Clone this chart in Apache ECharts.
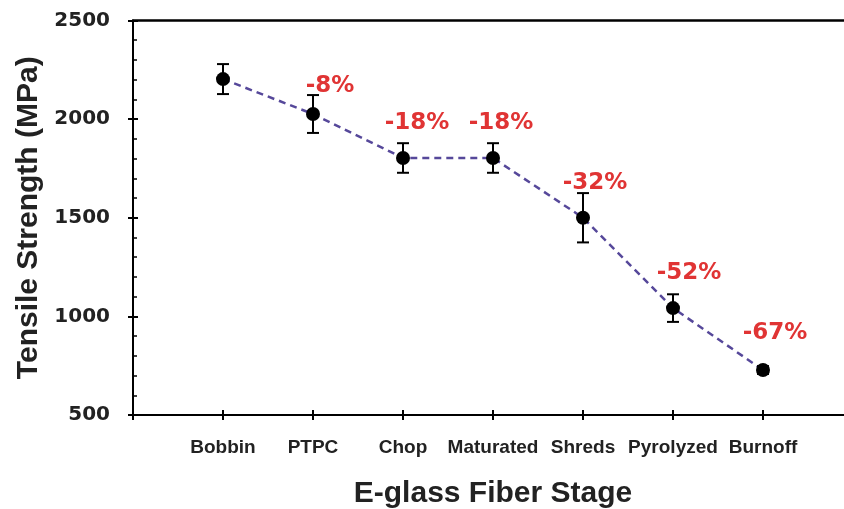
<!DOCTYPE html>
<html>
<head>
<meta charset="utf-8">
<script src="https://cdn.jsdelivr.net/npm/echarts@6/dist/echarts.min.js"></script>
<style>
html,body{margin:0;padding:0;background:#fff;}
#chart{width:844px;height:509px;}
</style>
</head>
<body>
<div id="chart"></div>
<script>
var categories = ['Bobbin', 'PTPC', 'Chop', 'Maturated', 'Shreds', 'Pyrolyzed', 'Burnoff'];
var strength = [2203, 2026, 1803, 1803, 1500, 1042, 728];
var errors = [76, 96, 75, 75, 125, 70, 20];
var changeLabels = ['', '-8%', '-18%', '-18%', '-32%', '-52%', '-67%'];
var yTicks = [500, 1000, 1500, 2000, 2500];

var labelOffsets = [[0,0],[17,-28],[14,-35],[8,-35],[12,-35],[16,-35],[12,-37]];
var ARIAL = 'Liberation Sans, Arial, sans-serif';
var WIDE = 'DejaVu Sans, Verdana, sans-serif';

var chart = echarts.init(document.getElementById('chart'), null, {renderer: 'canvas'});

var lineData = categories.map(function (c, i) {
  return {
    value: [i + 1, strength[i]],
    label: {
      show: changeLabels[i] !== '',
      formatter: changeLabels[i],
      position: 'inside',
      offset: labelOffsets[i]
    }
  };
});
var errData = categories.map(function (c, i) {
  return [i + 1, strength[i] - errors[i], strength[i] + errors[i]];
});

var commonX = {
  type: 'value', min: 0, max: 8, interval: 1,
  splitLine: {show: false}
};
var commonY = {
  type: 'value', min: yTicks[0], max: yTicks[yTicks.length - 1], interval: 500,
  splitLine: {show: false}
};

chart.setOption({
  animation: false,
  backgroundColor: '#ffffff',
  grid: {left: 133, top: 20.5, width: 720, bottom: 94, containLabel: false, outerBoundsMode: 'none'},
  xAxis: [
    Object.assign({}, commonX, {
      position: 'bottom',
      axisLine: {show: true, onZero: false, lineStyle: {color: '#000', width: 2}},
      axisTick: {show: true, inside: false, length: 5, lineStyle: {color: '#000', width: 2}},
      axisLabel: {
        show: true, margin: 23, hideOverlap: false,
        color: '#222', fontFamily: ARIAL, fontWeight: 'bold', fontSize: 19,
        formatter: function (v) { return categories[v - 1] || ''; }
      },
      name: 'E-glass Fiber Stage', nameLocation: 'middle', nameGap: 64,
      nameTextStyle: {color: '#222', fontFamily: ARIAL, fontWeight: 'bold', fontSize: 30}
    }),
    Object.assign({}, commonX, {
      position: 'bottom',
      axisLine: {show: false, onZero: false},
      axisTick: {show: true, inside: true, length: 5, lineStyle: {color: '#000', width: 2}},
      axisLabel: {show: false}
    }),
    Object.assign({}, commonX, {
      position: 'top',
      axisLine: {show: true, onZero: false, lineStyle: {color: '#000', width: 2.5}},
      axisTick: {show: false},
      axisLabel: {show: false}
    })
  ],
  yAxis: [
    Object.assign({}, commonY, {
      position: 'left',
      axisLine: {show: true, onZero: false, lineStyle: {color: '#000', width: 2}},
      axisTick: {show: true, inside: false, length: 5, lineStyle: {color: '#000', width: 2}},
      minorTick: {show: false},
      axisLabel: {
        show: true, margin: 23,
        color: '#222', fontFamily: WIDE, fontWeight: 'bold', fontSize: 20,
        formatter: function (v) { return yTicks.indexOf(v) >= 0 ? String(v) : ''; }
      },
      name: 'Tensile Strength (MPa)', nameLocation: 'middle', nameGap: 81, nameRotate: 90,
      nameTextStyle: {color: '#222', fontFamily: ARIAL, fontWeight: 'bold', fontSize: 30}
    }),
    Object.assign({}, commonY, {
      position: 'left',
      axisLine: {show: false, onZero: false},
      axisTick: {show: true, inside: true, length: 5, lineStyle: {color: '#000', width: 2}},
      minorTick: {show: true, splitNumber: 5, length: 4, lineStyle: {color: '#000', width: 1.5}},
      axisLabel: {show: false}
    })
  ],
  series: [
    {
      type: 'line',
      xAxisIndex: 0, yAxisIndex: 0,
      data: lineData,
      symbol: 'circle',
      symbolSize: 14,
      itemStyle: {color: '#000'},
      lineStyle: {color: '#56489a', width: 2.5, type: [7, 5]},
      label: {
        color: '#e03434', fontFamily: WIDE, fontWeight: 'bold', fontSize: 23
      },
      z: 3
    },
    {
      type: 'custom',
      xAxisIndex: 0, yAxisIndex: 0,
      data: errData,
      encode: {x: 0, y: [1, 2]},
      renderItem: function (params, api) {
        var x = api.value(0);
        var lo = api.coord([x, api.value(1)]);
        var hi = api.coord([x, api.value(2)]);
        var half = 6;
        var st = {stroke: '#000', lineWidth: 2};
        return {
          type: 'group',
          children: [
            {type: 'line', shape: {x1: lo[0], y1: lo[1], x2: hi[0], y2: hi[1]}, style: st},
            {type: 'line', shape: {x1: lo[0] - half, y1: lo[1], x2: lo[0] + half, y2: lo[1]}, style: st},
            {type: 'line', shape: {x1: hi[0] - half, y1: hi[1], x2: hi[0] + half, y2: hi[1]}, style: st}
          ]
        };
      },
      z: 4
    }
  ]
});
</script>
</body>
</html>
